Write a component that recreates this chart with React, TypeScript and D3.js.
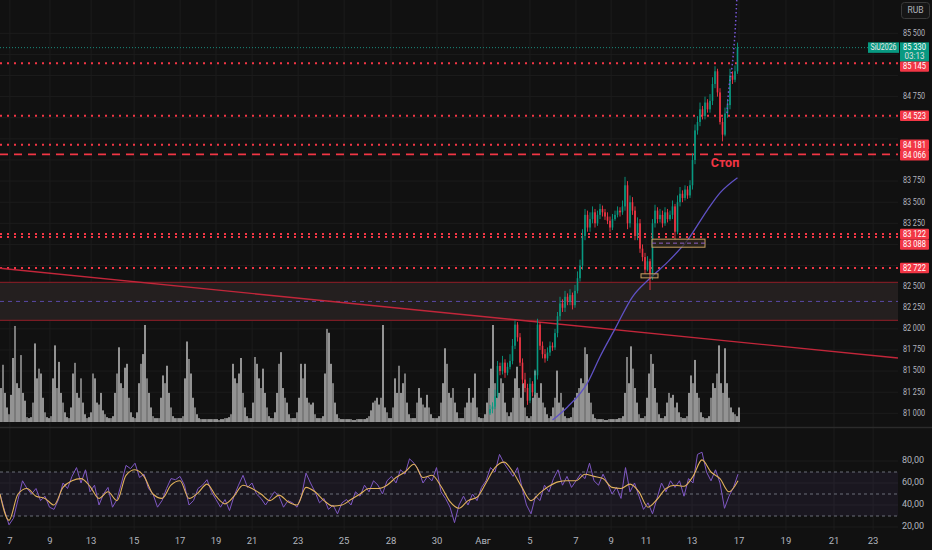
import React from "react";
import * as d3 from "d3";

// ---------- time axis ----------
const timeTickLabels = ["7", "9", "13", "15", "17", "19", "21", "23", "25", "28", "30", "Авг", "5", "7", "9", "11", "13", "17", "19", "21", "23"];
const timeTickDays = [0.43, 2.17, 3.96, 5.83, 7.83, 9.39, 10.96, 12.96, 14.96, 17, 19, 21, 23.04, 25.04, 26.57, 28.09, 30.09, 32.13, 34.17, 36.26, 37.96];

// ---------- price axis ----------
const priceTicks = [81000, 81250, 81500, 81750, 82000, 82250, 82500, 82750, 83000, 83250, 83500, 83750, 84000, 84250, 84500, 84750, 85000, 85250, 85500];
const rsiTicks = [20, 40, 60, 80];
const rsiTickLabels = ["20,00", "40,00", "60,00", "80,00"];
const rsiLevels = [30, 50, 70];

// ---------- candles (SiU2026) ----------
const candleOpen = [81000, 81050, 81080, 81200, 81560, 81500, 81600, 81480, 81550, 81620,
  81800, 82050, 81900, 81600, 81400, 81300, 81150, 81350, 81250, 81450,
  82050, 81800, 81700, 81650, 81720, 81800, 81780, 81950, 82150, 82300,
  82250, 82380, 82320, 82400, 82280, 82450, 82600, 82750, 83100, 83350,
  83200, 83300, 83380, 83250, 83350, 83420, 83380, 83330, 83280, 83200,
  83300, 83350, 83400, 83380, 83450, 83700, 83250, 83500, 83400, 83100,
  83250, 82950, 82850, 82700, 82800, 82600, 83250, 83400, 83300, 83350,
  83250, 83380, 83300, 83350, 83450, 83150, 83500, 83600, 83550, 83650,
  83580, 83700, 84000, 84350, 84450, 84600, 84520, 84680, 84600, 84700,
  84900, 85050, 84800, 84450, 84300, 84550, 84650, 85000, 84950, 85050];
const candleClose = [81050, 81080, 81200, 81560, 81500, 81600, 81480, 81550, 81620, 81800,
  82050, 81900, 81600, 81400, 81300, 81150, 81350, 81250, 81450, 82050,
  81800, 81700, 81650, 81720, 81800, 81780, 81950, 82150, 82300, 82250,
  82380, 82320, 82400, 82280, 82450, 82600, 82750, 83100, 83350, 83200,
  83300, 83380, 83250, 83350, 83420, 83380, 83330, 83280, 83200, 83300,
  83350, 83400, 83380, 83450, 83700, 83250, 83500, 83400, 83100, 83250,
  82950, 82850, 82700, 82800, 82600, 83250, 83400, 83300, 83350, 83250,
  83380, 83300, 83350, 83450, 83150, 83500, 83600, 83550, 83650, 83580,
  83700, 84000, 84350, 84450, 84600, 84520, 84680, 84600, 84700, 84900,
  85050, 84800, 84450, 84300, 84550, 84650, 85000, 84950, 85050, 85330];
const candleHigh = [81100, 81130, 81280, 81620, 81600, 81680, 81640, 81600, 81700, 81880,
  82100, 82080, 81950, 81650, 81480, 81350, 81420, 81380, 81520, 82120,
  82080, 81850, 81760, 81780, 81850, 81840, 82000, 82200, 82380, 82350,
  82450, 82420, 82470, 82430, 82520, 82680, 82820, 83180, 83420, 83400,
  83380, 83450, 83420, 83400, 83480, 83460, 83420, 83380, 83330, 83360,
  83400, 83450, 83440, 83520, 83800, 83750, 83580, 83560, 83450, 83320,
  83300, 83000, 82900, 82860, 82830, 83300, 83470, 83440, 83420, 83400,
  83440, 83420, 83400, 83520, 83480, 83580, 83680, 83640, 83700, 83690,
  83760, 84080, 84420, 84520, 84680, 84640, 84750, 84720, 84780, 84980,
  85110, 85080, 84850, 84500, 84620, 84720, 85080, 85050, 85120, 85390];
const candleLow = [80980, 81000, 81050, 81180, 81450, 81460, 81420, 81450, 81520, 81580,
  81760, 81850, 81560, 81350, 81250, 81100, 81120, 81200, 81220, 81400,
  81750, 81650, 81600, 81620, 81680, 81740, 81750, 81900, 82100, 82200,
  82200, 82280, 82280, 82230, 82250, 82420, 82560, 82700, 83050, 83150,
  83150, 83250, 83200, 83220, 83300, 83330, 83290, 83240, 83150, 83170,
  83280, 83320, 83330, 83350, 83400, 83180, 83200, 83350, 83050, 83050,
  82900, 82800, 82650, 82680, 82460, 82580, 83200, 83250, 83260, 83200,
  83220, 83260, 83280, 83300, 83050, 83120, 83450, 83500, 83520, 83540,
  83550, 83650, 83950, 84300, 84400, 84480, 84480, 84560, 84560, 84650,
  84850, 84750, 84420, 84220, 84280, 84500, 84600, 84900, 84920, 85020];

// moving average key points (candle index, price)
const maIdx = [25, 31, 39, 44, 50, 57, 64, 71, 79, 87, 92, 99];
const maVal = [80920, 81075, 81360, 81670, 82000, 82380, 82600, 82790, 83050, 83410, 83610, 83790];

// dotted projection line (candle index, price)
const projIdx = [94.8, 95.6, 96.8, 98, 98.7];
const projVal = [84556, 84864, 85101, 85504, 85895];

// ---------- volume (relative, 0-100) ----------
const volume = [35, 59, 30, 15, 8, 28, 66, 99, 40, 35,
  69, 30, 22, 5, 4, 5, 20, 81, 45, 55,
  50, 25, 10, 5, 4, 6, 45, 79, 35, 62,
  30, 20, 10, 5, 4, 15, 50, 61, 30, 25,
  45, 20, 8, 4, 5, 10, 50, 45, 20, 18,
  30, 12, 8, 5, 4, 4, 6, 30, 50, 77,
  40, 35, 56, 60, 25, 10, 5, 4, 10, 40,
  60, 70, 100, 45, 30, 15, 6, 4, 4, 4,
  25, 48, 40, 58, 30, 15, 6, 4, 4, 4,
  4, 6, 45, 83, 65, 50, 25, 15, 8, 4,
  3, 3, 3, 3, 3, 3, 3, 3, 3, 2,
  3, 3, 4, 4, 5, 8, 60, 45, 40, 50,
  66, 30, 15, 6, 4, 4, 20, 67, 60, 45,
  35, 55, 30, 15, 6, 4, 4, 10, 30, 60,
  72, 35, 25, 20, 8, 4, 4, 4, 10, 25,
  60, 45, 60, 25, 20, 18, 20, 8, 4, 4,
  4, 6, 50, 96, 92, 60, 40, 20, 8, 4,
  3, 3, 3, 3, 3, 3, 2, 2, 3, 3,
  3, 3, 3, 4, 6, 12, 20, 22, 25, 18,
  25, 100, 15, 10, 4, 4, 15, 45, 30, 58,
  30, 40, 50, 20, 8, 4, 4, 4, 20, 35,
  25, 18, 15, 28, 15, 8, 4, 4, 4, 6,
  20, 40, 76, 60, 30, 25, 35, 20, 10, 4,
  4, 4, 15, 20, 35, 20, 25, 50, 15, 5,
  4, 4, 8, 20, 35, 55, 100, 40, 25, 30,
  45, 40, 20, 10, 6, 10, 25, 45, 57, 35,
  25, 40, 15, 6, 4, 6, 25, 53, 30, 25,
  40, 20, 15, 8, 4, 6, 15, 25, 53, 20,
  30, 15, 6, 4, 4, 5, 15, 25, 30, 35,
  45, 40, 77, 70, 30, 20, 8, 4, 3, 3,
  3, 3, 2, 2, 3, 3, 3, 3, 3, 4,
  4, 6, 30, 67, 40, 78, 55, 35, 20, 8,
  4, 4, 6, 25, 50, 70, 60, 35, 20, 8,
  4, 4, 6, 20, 30, 25, 28, 15, 20, 10,
  5, 4, 4, 6, 30, 48, 40, 64, 30, 25,
  10, 5, 4, 4, 6, 25, 40, 35, 50, 79,
  40, 30, 76, 40, 25, 15, 10, 8, 6, 15];

// ---------- RSI ----------
const rsi = [50, 35, 22, 28, 45, 62, 55, 50, 55, 44,
  48, 38, 36, 45, 60, 55, 66, 74, 60, 72,
  52, 58, 40, 50, 56, 38, 45, 60, 76, 73,
  78, 65, 68, 55, 50, 38, 44, 55, 64, 63,
  66, 58, 40, 44, 55, 58, 63, 52, 45, 38,
  45, 35, 48, 58, 67, 56, 60, 50, 46, 40,
  46, 52, 48, 38, 44, 42, 38, 48, 69, 60,
  52, 42, 46, 36, 40, 32, 42, 45, 40, 52,
  48, 58, 52, 62, 58, 50, 62, 66, 60, 72,
  68, 82, 78, 72, 60, 66, 62, 74, 52, 46,
  38, 24, 40, 48, 40, 50, 44, 56, 62, 74,
  70, 86, 78, 72, 66, 74, 56, 40, 32, 48,
  44, 58, 52, 64, 72, 58, 66, 56, 62, 68,
  64, 78, 62, 58, 68, 60, 50, 56, 46, 74,
  52, 60, 48, 36, 42, 32, 46, 60, 52, 62,
  56, 62, 48, 64, 60, 86, 88, 70, 62, 72,
  60, 37, 48, 56, 68];
const rsiMa = [50, 26, 50, 55, 48, 46, 40, 56, 62, 64,
  57, 46, 52, 44, 67, 72, 66, 50, 46, 58,
  62, 46, 51, 59, 48, 41, 48, 58, 55, 50,
  44, 49, 43, 40, 56, 52, 44, 39, 40, 45,
  50, 55, 55, 58, 65, 70, 77, 65, 67, 57,
  43, 37, 44, 47, 60, 74, 79, 70, 56, 44,
  51, 57, 61, 62, 62, 68, 66, 64, 56, 55,
  59, 52, 38, 45, 55, 58, 57, 66, 81, 70,
  64, 52, 62];

// ---------- drawings ----------
const dottedLevels = [85145, 84523, 84181, 83122, 83088, 82722];
const dashedLevels = [84066];
const zoneTop = 82550;
const zoneBottom = 82100;
const zoneMid = 82325;
const trendDays = [0, 39.04];
const trendPrices = [82717, 81655];
const boxBig = { i0: 64.8, i1: 86, top: 83062, bottom: 82967, mid: 83015 };
const boxSmall = { i0: 60.4, i1: 67.2, top: 82652, bottom: 82604 };
const lastPrice = 85330;
const symbol = "SiU2026";
const countdown = "03:13";
const stopLabel = "Стоп";
const stopAnchorIdx = 94;
const stopPrice = 83960;

const fmtPrice = (v: number) => d3.format(",")(v).replace(/,/g, " ");

const BG = "#111111";
const GRID = "#1c1c1c";
const RED = "#f23645";
const GREEN = "#089981";
const TXT = "#b2b5be";
const FONT = "Roboto, 'Noto Sans', sans-serif";

export default function App() {
  const W = 932;
  const H = 550;
  const PR = 898;
  const PANE_B = 425;

  const x = d3.scaleLinear().domain([0, 40]).range([0, 920]);
  const y = d3.scaleLinear().domain([81000, 85500]).range([413.3, 33.3]);
  const cx = d3.scaleLinear().domain([0, candleClose.length - 1]).range([490, 737.5]);
  const vx = d3.scaleBand<number>().domain(d3.range(volume.length)).range([0, 740]);
  const vy = d3.scaleLinear().domain([0, 100]).range([422, 325]);
  const ry = d3.scaleLinear().domain([20, 80]).range([527, 461]);
  const rx = d3.scaleLinear().domain([0, rsi.length - 1]).range([0, 738]);
  const rmx = d3.scaleLinear().domain([0, rsiMa.length - 1]).range([0, 738]);

  const maPath = d3.line<number>().x((_, i) => cx(maIdx[i])).y((d) => y(d)).curve(d3.curveMonotoneX)(maVal) || "";
  const projPath = d3.line<number>().x((_, i) => cx(projIdx[i])).y((d) => y(d)).curve(d3.curveCatmullRom)(projVal) || "";
  const rsiPath = d3.line<number>().x((_, i) => rx(i)).y((d) => ry(d))(rsi) || "";
  const rsiMaPath = d3.line<number>().x((_, i) => rmx(i)).y((d) => ry(d)).curve(d3.curveMonotoneX)(rsiMa) || "";

  // price tags with stacking
  const tagH = 10.5;
  const greenTop = y(lastPrice) - 5.3;
  const greenH = 19;
  const redTags = [...dottedLevels, ...dashedLevels].sort((a, b) => b - a);
  let prevBottom = greenTop + greenH;
  const tagBoxes = redTags.map((v) => {
    let top = y(v) - tagH / 2;
    if (top < prevBottom) top = prevBottom;
    prevBottom = top + tagH;
    return { v, top };
  });
  const occupied = [{ top: greenTop, bottom: greenTop + greenH }, ...tagBoxes.map((t) => ({ top: t.top, bottom: t.top + tagH }))];
  const visiblePriceTicks = priceTicks.filter((p) => {
    const py = y(p);
    return !occupied.some((o) => py > o.top - 4 && py < o.bottom + 4);
  });

  const candleW = 1.6;

  return (
    <div style={{ width: W, height: H, background: BG }}>
      <style>{"body{margin:0;background:#111111;}"}</style>
      <svg width={W} height={H} style={{ display: "block", fontFamily: FONT }}>
        <defs>
          <clipPath id="pricePane">
            <rect x={0} y={0} width={PR} height={PANE_B} />
          </clipPath>
          <clipPath id="rsiPane">
            <rect x={0} y={430} width={PR} height={100} />
          </clipPath>
        </defs>
        <rect x={0} y={0} width={W} height={H} fill={BG} />

        {/* grid */}
        <g stroke={GRID} strokeWidth={1}>
          {timeTickDays.map((d, i) => (
            <line key={"vg" + i} x1={x(d)} x2={x(d)} y1={0} y2={530} />
          ))}
          {priceTicks.map((p) => (
            <line key={"hg" + p} x1={0} x2={PR} y1={y(p)} y2={y(p)} />
          ))}
          {rsiTicks.map((r) => (
            <line key={"rg" + r} x1={0} x2={PR} y1={ry(r)} y2={ry(r)} />
          ))}
        </g>

        <g clipPath="url(#pricePane)">
          {/* zone */}
          <rect x={0} width={PR} y={y(zoneTop)} height={y(zoneBottom) - y(zoneTop)} fill="#241f1f" />
          <line x1={0} x2={PR} y1={y(zoneTop)} y2={y(zoneTop)} stroke="#7a1c24" strokeWidth={1.2} />
          <line x1={0} x2={PR} y1={y(zoneBottom)} y2={y(zoneBottom)} stroke="#7a1c24" strokeWidth={1.2} />
          <line x1={0} x2={PR} y1={y(zoneMid)} y2={y(zoneMid)} stroke="#5a4aa8" strokeWidth={1} strokeDasharray="4 4" />

          {/* horizontal levels */}
          {dottedLevels.map((v) => (
            <line key={"dl" + v} x1={0} x2={PR} y1={y(v)} y2={y(v)} stroke={RED} strokeWidth={2} strokeDasharray="2 5" />
          ))}
          {dashedLevels.map((v) => (
            <line key={"ds" + v} x1={0} x2={PR} y1={y(v)} y2={y(v)} stroke={RED} strokeWidth={1.8} strokeDasharray="8 6" />
          ))}

          {/* trend line */}
          <line x1={x(trendDays[0])} x2={x(trendDays[1])} y1={y(trendPrices[0])} y2={y(trendPrices[1])} stroke="#c2263a" strokeWidth={1.4} />

          {/* volume */}
          {volume.map((v, i) => (
            <rect key={"v" + i} x={vx(i)} width={vx.bandwidth()} y={vy(v)} height={vy(0) - vy(v)} fill={i % 3 === 1 ? "#7a7a7a" : "#939393"} />
          ))}

          {/* moving average */}
          <path d={maPath} fill="none" stroke="#5f51c4" strokeWidth={1.3} />

          {/* candles */}
          {candleClose.map((c, i) => {
            const o = candleOpen[i];
            const up = c >= o;
            const col = up ? GREEN : RED;
            const xc = cx(i);
            const top = y(Math.max(o, c));
            const bot = y(Math.min(o, c));
            return (
              <g key={"c" + i}>
                <line x1={xc} x2={xc} y1={y(candleHigh[i])} y2={y(candleLow[i])} stroke={col} strokeWidth={0.9} />
                <rect x={xc - candleW / 2} width={candleW} y={top} height={Math.max(1, bot - top)} fill={col} />
              </g>
            );
          })}

          {/* boxes */}
          <rect x={cx(boxBig.i0)} width={cx(boxBig.i1) - cx(boxBig.i0)} y={y(boxBig.top)} height={y(boxBig.bottom) - y(boxBig.top)} fill="rgba(45,38,30,0.75)" stroke="#c79f62" strokeWidth={1} />
          <line x1={cx(boxBig.i0)} x2={cx(boxBig.i1)} y1={y(boxBig.mid)} y2={y(boxBig.mid)} stroke="#8e5fc4" strokeWidth={1} strokeDasharray="4 3" />
          <rect x={cx(boxSmall.i0)} width={cx(boxSmall.i1) - cx(boxSmall.i0)} y={y(boxSmall.top)} height={y(boxSmall.bottom) - y(boxSmall.top)} fill="rgba(45,38,30,0.5)" stroke="#c79f62" strokeWidth={1} />

          {/* stop label */}
          <text x={cx(stopAnchorIdx)} y={y(stopPrice)} fill={RED} fontSize={12.5} fontWeight={700} textAnchor="middle" dominantBaseline="middle">{stopLabel}</text>

          {/* current price line */}
          <line x1={0} x2={868} y1={y(lastPrice)} y2={y(lastPrice)} stroke="#1a8a7c" strokeWidth={1} strokeDasharray="1 2" />

          {/* projection */}
          <path d={projPath} fill="none" stroke="#7656d6" strokeWidth={1.5} strokeDasharray="1.5 2.5" />
        </g>

        {/* pane separators */}
        <line x1={0} x2={W} y1={427.5} y2={427.5} stroke="#2b2b2b" strokeWidth={1.5} />

        {/* RSI pane */}
        <g clipPath="url(#rsiPane)">
          <rect x={0} width={PR} y={ry(70)} height={ry(30) - ry(70)} fill="rgba(126,87,194,0.09)" />
          {rsiLevels.map((l) => (
            <line key={"rl" + l} x1={0} x2={PR} y1={ry(l)} y2={ry(l)} stroke="#6b6e78" strokeWidth={1} strokeDasharray="3 3" />
          ))}
          <path d={rsiPath} fill="none" stroke="#7e57c2" strokeWidth={1} />
          <path d={rsiMaPath} fill="none" stroke="#e2b25c" strokeWidth={1.1} />
        </g>

        {/* price axis labels */}
        <g fill={TXT} fontSize={9}>
          {visiblePriceTicks.map((p) => (
            <text key={"pl" + p} x={914} y={y(p)} textAnchor="middle" dominantBaseline="middle" textLength={22} lengthAdjust="spacingAndGlyphs">{fmtPrice(p)}</text>
          ))}
          {rsiTicks.map((r, i) => (
            <text key={"rl" + r} x={913} y={ry(r)} textAnchor="middle" dominantBaseline="middle" textLength={22} lengthAdjust="spacingAndGlyphs">{rsiTickLabels[i]}</text>
          ))}
        </g>

        {/* red tags */}
        {tagBoxes.map((t) => (
          <g key={"tag" + t.v}>
            <rect x={900} y={t.top} width={29} height={tagH} fill={RED} rx={1} />
            <text x={914.5} y={t.top + tagH / 2 + 0.5} fill="#ffffff" fontSize={9} textAnchor="middle" dominantBaseline="middle" textLength={23} lengthAdjust="spacingAndGlyphs">{fmtPrice(t.v)}</text>
          </g>
        ))}

        {/* current price tag */}
        <rect x={868} y={greenTop} width={31} height={10.5} fill={GREEN} />
        <text x={883.5} y={greenTop + 5.5} fill="#e8e8e8" fontSize={8.5} textAnchor="middle" dominantBaseline="middle" textLength={26} lengthAdjust="spacingAndGlyphs">{symbol}</text>
        <rect x={900} y={greenTop} width={29} height={greenH} fill={GREEN} />
        <text x={914.5} y={greenTop + 5.2} fill="#ffffff" fontSize={9} textAnchor="middle" dominantBaseline="middle" textLength={23} lengthAdjust="spacingAndGlyphs">{fmtPrice(lastPrice)}</text>
        <text x={914.5} y={greenTop + 14.2} fill="#e0e0e0" fontSize={9} textAnchor="middle" dominantBaseline="middle" textLength={20} lengthAdjust="spacingAndGlyphs">{countdown}</text>

        {/* currency box */}
        <rect x={901.5} y={2.5} width={28} height={16} rx={3} fill="#161616" stroke="#3a3a3a" />
        <text x={915.5} y={11} fill={TXT} fontSize={8.5} textAnchor="middle" dominantBaseline="middle">RUB</text>

        {/* time axis */}
        <g fill={TXT} fontSize={9.5}>
          {timeTickLabels.map((l, i) => (
            <text key={"tl" + i} x={x(timeTickDays[i])} y={541} textAnchor="middle" dominantBaseline="middle">{l}</text>
          ))}
        </g>
      </svg>
    </div>
  );
}
